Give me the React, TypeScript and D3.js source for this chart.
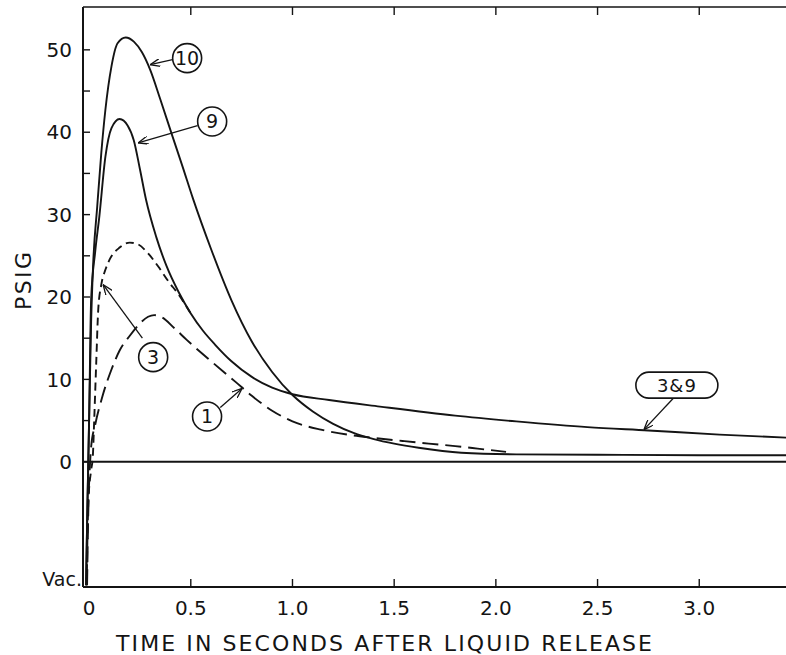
import React from 'react';
import * as d3 from 'd3';

const W = 786;
const H = 655;

// pressure traces, [seconds, psig]
const curve10 = [
  [-0.015, -15], [-0.008, -5], [0.0, 5], [0.01, 17], [0.02, 24], [0.04, 31], [0.06, 37.5],
  [0.08, 42.7], [0.11, 48], [0.14, 50.8], [0.18, 51.5], [0.22, 51], [0.26, 49.7], [0.3, 47.6],
  [0.35, 44], [0.41, 39.5], [0.46, 35.8], [0.51, 32], [0.6, 25.8], [0.7, 19.6], [0.8, 14.6],
  [0.9, 10.9], [1.0, 8.1], [1.1, 6.1], [1.2, 4.6], [1.3, 3.5], [1.4, 2.75], [1.5, 2.2],
  [1.62, 1.7], [1.83, 1.1], [2.1, 0.9], [2.5, 0.85], [3.0, 0.8], [3.45, 0.8],
];
const curve9 = [
  [-0.015, -15], [-0.008, -5], [0.0, 5], [0.01, 19.7], [0.03, 25.5], [0.05, 29.7], [0.08, 37],
  [0.11, 40.5], [0.15, 41.6], [0.19, 40.8], [0.22, 39], [0.25, 35.5], [0.28, 31.8], [0.33, 27.3],
  [0.38, 23.8], [0.44, 20.6], [0.5, 18.0], [0.56, 15.9], [0.62, 14.2], [0.7, 12.2], [0.8, 10.3],
  [0.9, 9.0], [1.0, 8.2], [1.18, 7.5], [1.43, 6.7], [1.8, 5.6], [2.1, 4.9], [2.45, 4.2],
  [2.75, 3.8], [3.1, 3.3], [3.45, 2.9],
];
const curve3 = [
  [-0.012, -15], [-0.004, -5], [0.01, -1], [0.018, 0.5], [0.025, 5], [0.035, 12], [0.045, 18.5],
  [0.06, 21.5], [0.08, 23.3], [0.1, 24.5], [0.15, 26], [0.2, 26.6], [0.24, 26.4], [0.29, 25.3],
  [0.34, 23.7], [0.39, 21.9], [0.44, 20.3], [0.5, 18.0],
];
const curve1 = [
  [-0.01, -15], [-0.003, -5], [0.005, 0], [0.01, 1.8], [0.03, 4.5], [0.065, 7.9], [0.11, 11.2],
  [0.15, 13.5], [0.2, 15.3], [0.25, 16.8], [0.29, 17.6], [0.32, 17.8], [0.36, 17.5], [0.42, 16.2],
  [0.48, 14.8], [0.6, 12.2], [0.72, 9.7], [0.8, 8], [0.9, 6.2], [1.0, 4.9], [1.14, 3.9], [1.27, 3.3],
  [1.4, 2.9], [1.55, 2.5], [1.67, 2.2], [1.8, 1.9], [1.91, 1.6], [2.05, 1.2],
];

const xTicks = [0, 0.5, 1.0, 1.5, 2.0, 2.5, 3.0];
const xTickLabels = ['0', '0.5', '1.0', '1.5', '2.0', '2.5', '3.0'];
const yTicks = [0, 10, 20, 30, 40, 50];
const yMinorTicks = [5, 15, 25, 35, 45];
const VAC = -15.2;

// callout labels: circle centre, arrow start, arrow tip (data units)
const callouts = [
  { label: '10', at: [0.482, 49.0], from: [0.41, 48.8], to: [0.3, 48.2], pill: false },
  { label: '9', at: [0.605, 41.3], from: [0.533, 40.8], to: [0.241, 38.7], pill: false },
  { label: '3', at: [0.315, 12.7], from: [0.262, 15.0], to: [0.069, 21.5], pill: false },
  { label: '1', at: [0.58, 5.5], from: [0.645, 6.6], to: [0.752, 8.9], pill: false },
  { label: '3&9', at: [2.89, 9.3], from: [2.876, 7.8], to: [2.728, 3.9], pill: true },
];

const font = '"DejaVu Sans", sans-serif';
const ink = '#141414';

export default function App() {
  const x = d3.scaleLinear().domain([-0.03, 3.43]).range([83, 786.7]);
  const y = d3.scaleLinear().domain([VAC, 55.2]).range([587, 7]);

  const line = d3
    .line<number[]>()
    .x((d) => x(d[0]))
    .y((d) => y(d[1]))
    .curve(d3.curveMonotoneX);

  const left = x(-0.03);
  const right = W;
  const top = y(55.2);
  const bottom = y(VAC);

  return (
    <div style={{ position: 'absolute', left: 0, top: 0 }}>
      <svg width={W} height={H} style={{ display: 'block', background: '#fff' }}>
        <defs>
          <marker id="arr" viewBox="0 0 10 8" refX="10" refY="4" markerWidth="10" markerHeight="8"
            markerUnits="userSpaceOnUse" orient="auto">
            <path d="M0,0 L10,4 L0,8" fill="none" stroke={ink} strokeWidth="1.3" />
          </marker>
        </defs>

        {/* frame */}
        <line x1={left} y1={top} x2={right} y2={top} stroke={ink} strokeWidth={1.6} />
        <line x1={left} y1={top} x2={left} y2={bottom} stroke={ink} strokeWidth={2} />
        <line x1={left} y1={bottom} x2={right} y2={bottom} stroke={ink} strokeWidth={2} />
        <line x1={left} y1={y(0)} x2={right} y2={y(0)} stroke={ink} strokeWidth={2} />

        {/* y ticks */}
        {yTicks.concat(yMinorTicks).map((v) => (
          <line key={'yt' + v} x1={left} x2={left + 7} y1={y(v)} y2={y(v)} stroke={ink} strokeWidth={1.4} />
        ))}
        {yTicks.map((v) => (
          <text key={'yl' + v} x={72} y={y(v)} dy="0.36em" textAnchor="end" fontFamily={font}
            fontSize={20} fill={ink}>{v}</text>
        ))}
        <text x={82} y={bottom - 1} textAnchor="end" fontFamily={font} fontSize={19} fill={ink}>Vac.</text>

        {/* x ticks */}
        {xTicks.filter((v) => v > 0).map((v) => (
          <g key={'xt' + v}>
            <line x1={x(v)} x2={x(v)} y1={bottom} y2={bottom - 8} stroke={ink} strokeWidth={1.4} />
            <line x1={x(v)} x2={x(v)} y1={top} y2={top + 8} stroke={ink} strokeWidth={1.4} />
          </g>
        ))}
        {xTicks.map((v, i) => (
          <text key={'xl' + v} x={x(v)} y={615} textAnchor="middle" fontFamily={font} fontSize={20}
            fill={ink}>{xTickLabels[i]}</text>
        ))}

        {/* axis titles */}
        <text x={384} y={651} textAnchor="middle" fontFamily={font} fontSize={22} fill={ink}
          textLength={536} lengthAdjust="spacing">TIME IN SECONDS AFTER LIQUID RELEASE</text>
        <text transform="translate(31,281) rotate(-90)" textAnchor="middle" fontFamily={font}
          fontSize={22} fill={ink} textLength={58} lengthAdjust="spacing">PSIG</text>

        {/* traces */}
        <path d={line(curve10 as number[][]) || ''} fill="none" stroke={ink} strokeWidth={1.9} />
        <path d={line(curve9 as number[][]) || ''} fill="none" stroke={ink} strokeWidth={1.9} />
        <path d={line(curve3 as number[][]) || ''} fill="none" stroke={ink} strokeWidth={1.9}
          strokeDasharray="8 5" />
        <path d={line(curve1 as number[][]) || ''} fill="none" stroke={ink} strokeWidth={1.9}
          strokeDasharray="16 7" />

        {/* callouts */}
        {callouts.map((c) => (
          <g key={c.label}>
            <line x1={x(c.from[0])} y1={y(c.from[1])} x2={x(c.to[0])} y2={y(c.to[1])} stroke={ink}
              strokeWidth={1.3} markerEnd="url(#arr)" />
            {c.pill ? (
              <rect x={x(c.at[0]) - 41} y={y(c.at[1]) - 13} width={82} height={26} rx={13}
                fill="#fff" stroke={ink} strokeWidth={1.6} />
            ) : (
              <circle cx={x(c.at[0])} cy={y(c.at[1])} r={14.5} fill="#fff" stroke={ink} strokeWidth={1.6} />
            )}
            <text x={x(c.at[0])} y={y(c.at[1])} dy="0.36em" textAnchor="middle" fontFamily={font}
              fontSize={c.pill ? 18 : 19} fill={ink} letterSpacing={c.pill ? 1 : 0}>{c.label}</text>
          </g>
        ))}
      </svg>
    </div>
  );
}
